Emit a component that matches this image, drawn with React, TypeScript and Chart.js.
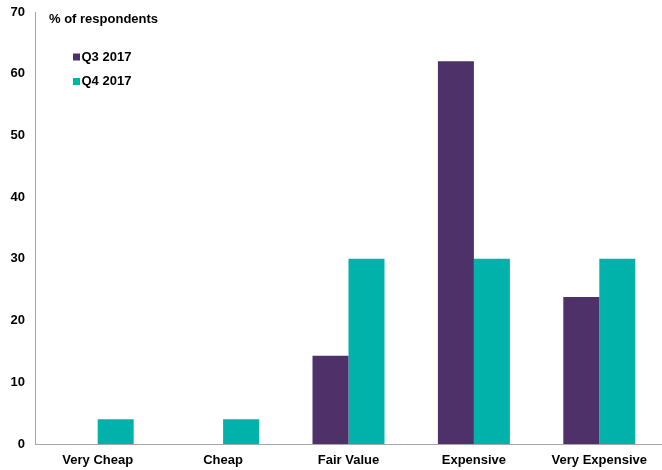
import React, { useEffect, useRef } from "react";
import { Chart, registerables } from "chart.js";

Chart.register(...registerables);

const categories = ["Very Cheap", "Cheap", "Fair Value", "Expensive", "Very Expensive"];
const q3Values = [0, 0, 14.3, 62, 23.8];
const q4Values = [4, 4, 30, 30, 30];
const seriesLabels = ["Q3 2017", "Q4 2017"];
const seriesColors = ["#4E3169", "#00B2A9"];
const yTitle = "% of respondents";

const FONT = "'Liberation Sans', Arial, sans-serif";

const overlayPlugin = {
  id: "overlay",
  afterDraw(chart: any) {
    const ctx = chart.ctx;
    ctx.save();
    ctx.font = `bold 13px ${FONT}`;
    ctx.fillStyle = "#000";
    ctx.textBaseline = "middle";
    ctx.textAlign = "left";
    ctx.fillText(yTitle, 49, 19);
    chart.data.datasets.forEach((ds: any, i: number) => {
      const y = 57 + i * 24.5;
      ctx.fillStyle = ds.backgroundColor;
      ctx.fillRect(73, y - 3.5, 7, 7);
      ctx.fillStyle = "#000";
      ctx.fillText(ds.label, 81.5, y);
    });
    ctx.restore();
  },
};

export default function App() {
  const ref = useRef<HTMLCanvasElement>(null);
  useEffect(() => {
    document.body.style.margin = "0";
    const chart = new Chart(ref.current!, {
      type: "bar",
      data: {
        labels: categories,
        datasets: [
          { label: seriesLabels[0], data: q3Values, backgroundColor: seriesColors[0] },
          { label: seriesLabels[1], data: q4Values, backgroundColor: seriesColors[1] },
        ],
      },
      options: {
        animation: false,
        responsive: false,
        maintainAspectRatio: false,
        layout: { padding: { top: 12, right: 0, left: 0, bottom: 0 } },
        datasets: { bar: { categoryPercentage: 0.574, barPercentage: 1 } },
        plugins: { legend: { display: false }, tooltip: { enabled: false } },
        scales: {
          x: {
            grid: { display: false, drawTicks: false },
            border: { color: "#A6A6A6", width: 1 },
            ticks: { color: "#000", font: { family: FONT, size: 13, weight: "bold" }, padding: 9, maxRotation: 0 },
            afterFit(scale: any) {
              scale.height = 26;
              scale.paddingLeft = 0;
              scale.paddingRight = 0;
            },
          },
          y: {
            min: 0,
            max: 70,
            grid: { display: false, drawTicks: false },
            border: { color: "#A6A6A6", width: 1 },
            ticks: { stepSize: 10, color: "#000", font: { family: FONT, size: 13, weight: "bold" }, padding: 10 },
            afterFit(scale: any) {
              scale.width = 35;
              scale.paddingTop = 0;
              scale.paddingBottom = 0;
            },
          },
        },
      },
      plugins: [overlayPlugin],
    } as any);
    return () => chart.destroy();
  }, []);
  return (
    <div style={{ width: 662, height: 470 }}>
      <canvas ref={ref} width={662} height={470} style={{ display: "block" }} />
    </div>
  );
}
